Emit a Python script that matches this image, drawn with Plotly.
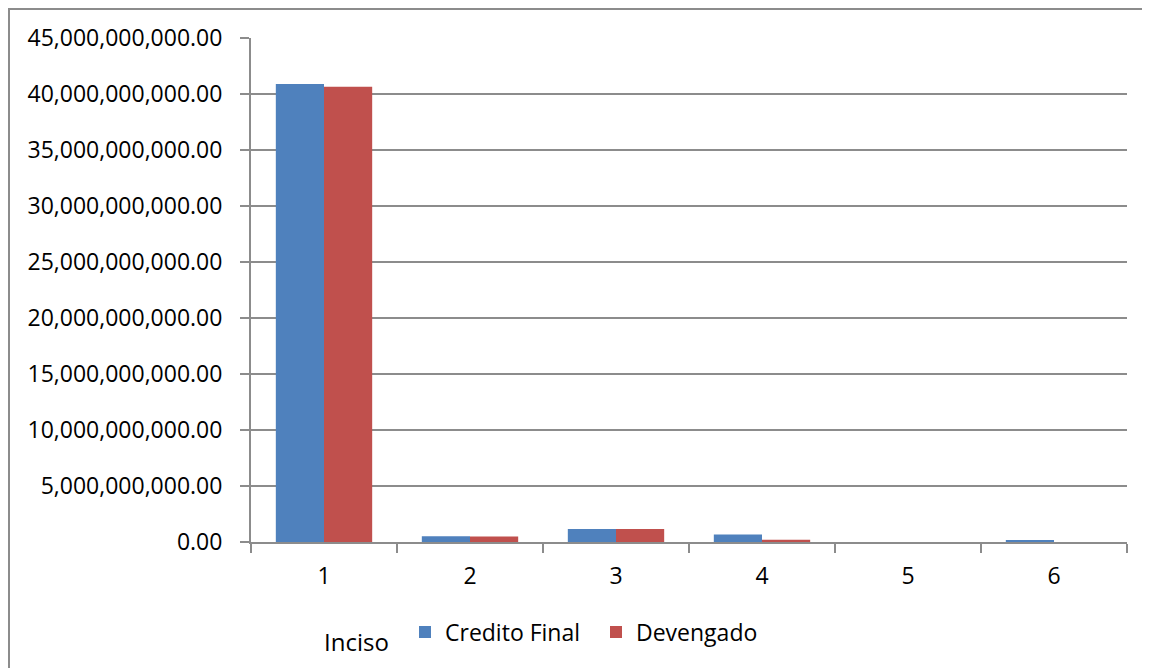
import plotly.graph_objects as go

categories = ["1", "2", "3", "4", "5", "6"]
credito_final = [40.9e9, 0.52e9, 1.17e9, 0.66e9, 0.0, 0.12e9]
devengado = [40.65e9, 0.5e9, 1.16e9, 0.2e9, 0.0, 0.0]
series_names = ["Credito Final", "Devengado"]
axis_title = "Inciso"

# page body has an 8px margin; coordinates below are in figure pixels
W, H = 1150, 668
L, R, T, B = 243, 1119, 30, 534
FONT = "Open Sans"
GRID = "#8c8c8c"
FS = 23

fig = go.Figure()
fig.add_bar(x=categories, y=credito_final, name=series_names[0],
            marker=dict(color="#4F81BD", line=dict(width=0)))
fig.add_bar(x=categories, y=devengado, name=series_names[1],
            marker=dict(color="#C0504D", line=dict(width=0)))

def px(x):
    return (x - L) / (R - L)

def py(y):
    return (B - y) / (B - T)

fig.update_layout(
    width=W, height=H,
    margin=dict(l=L, r=W - R, t=T, b=H - B, pad=0),
    paper_bgcolor="white", plot_bgcolor="white",
    barmode="group", bargap=0.34, bargroupgap=0.0,
    font=dict(family=FONT, size=FS, color="#000000"),
    showlegend=True,
    legend=dict(orientation="h", x=px(397), xanchor="left", y=py(624), yanchor="middle",
                font=dict(family=FONT, size=FS), itemwidth=30, tracegroupgap=0,
                entrywidth=146, entrywidthmode="pixels",
                bgcolor="rgba(0,0,0,0)"),
    xaxis=dict(type="category", showline=True, linecolor=GRID, linewidth=2,
               ticks="outside", tickson="boundaries", ticklen=9, tickcolor=GRID, tickwidth=2,
               showgrid=False, ticklabelstandoff=12, tickfont=dict(size=FS)),
    yaxis=dict(range=[0, 45e9], dtick=5e9, tickformat=",.2f", showline=True,
               linecolor=GRID, linewidth=2, ticks="outside", ticklen=9, tickcolor=GRID,
               tickwidth=2, showgrid=True, gridcolor=GRID, gridwidth=2,
               zeroline=False, ticklabelstandoff=13, tickfont=dict(size=FS)),
    shapes=[
        dict(type="line", xref="paper", yref="paper", x0=px(0), x1=px(1160), y0=py(1), y1=py(1),
             line=dict(color="#8c8c8c", width=2)),
        dict(type="line", xref="paper", yref="paper", x0=px(1), x1=px(1), y0=py(1), y1=py(680),
             line=dict(color="#8c8c8c", width=2)),
    ],
    annotations=[
        dict(text=axis_title, xref="paper", yref="paper", x=px(348), y=py(633),
             xanchor="center", yanchor="middle", showarrow=False,
             font=dict(family=FONT, size=FS + 1, color="#000000")),
    ],
)

fig.write_html("out.html")
